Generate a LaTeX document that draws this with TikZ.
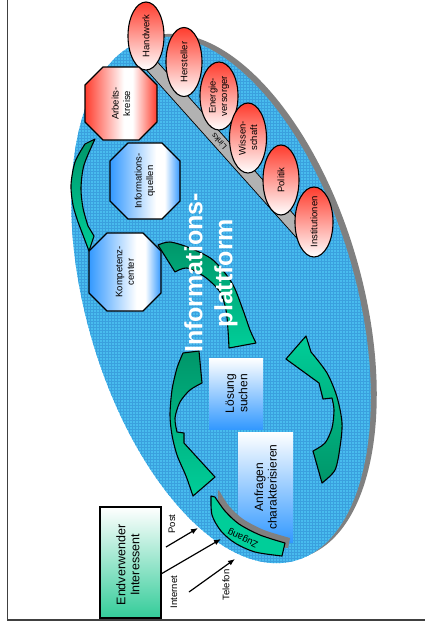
\documentclass[tikz,border=0pt]{standalone}
\usepackage{fontspec}
\setmainfont{Liberation Sans}
\usetikzlibrary{arrows.meta,shapes.geometric}
\definecolor{rd}{RGB}{255,60,45}
\definecolor{bl}{RGB}{51,153,255}
\definecolor{gd}{RGB}{0,150,105}
\definecolor{gl}{RGB}{0,206,153}
\definecolor{gbox}{RGB}{51,204,153}
\definecolor{skyfill}{RGB}{72,188,238}
\definecolor{skygrid}{RGB}{58,160,222}
\definecolor{shadowgray}{RGB}{128,128,128}
\definecolor{bargray}{RGB}{178,178,178}
\pgfdeclarehorizontalshading{octred}{100bp}{color(0bp)=(rd); color(25bp)=(rd); color(52bp)=(white); color(58bp)=(white); color(75bp)=(rd); color(100bp)=(rd)}
\pgfdeclarehorizontalshading{octblue}{100bp}{color(0bp)=(bl); color(25bp)=(bl); color(58bp)=(white); color(64bp)=(white); color(75bp)=(bl); color(100bp)=(bl)}
\tikzset{
  frameline/.style={line width=1.2pt, black!75},
  redell/.style={ellipse, draw=black, line width=1.1pt, top color=rd, bottom color=white, inner sep=0pt},
  octo/.style={draw=black, line width=1.1pt},
  garrow/.style={draw=black, line width=1.1pt, line join=round},
  lbl/.style={rotate=90, align=center, inner sep=0pt, font=\fontsize{9.5}{11.5}\selectfont},
  boxlbl/.style={rotate=90, align=center, inner sep=0pt, font=\fontsize{12}{13.5}\selectfont},
  chan/.style={-{Latex[length=7pt,width=5.5pt]}, line width=1.2pt},
  chanlbl/.style={rotate=90, inner sep=0pt, font=\fontsize{9.5}{11}\selectfont}
}
\begin{document}
\begin{tikzpicture}[x=1pt,y=-1pt]
\useasboundingbox (0,0) rectangle (424,630);
\fill[white] (0,0) rectangle (424,630);
\draw[frameline] (7.5,-5) -- (7.5,620) -- (430,620);

% platform ellipse with shadow
\fill[shadowgray, rotate around={16:(227,297)}] (227,297) ellipse [x radius=135, y radius=271];
\fill[skyfill, rotate around={16:(221,300)}] (221,300) ellipse [x radius=135, y radius=271];
\begin{scope}
\clip[rotate around={16:(221,300)}] (221,300) ellipse [x radius=135, y radius=271];
\draw[skygrid, line width=0.3pt, step=3pt] (60,20) grid (400,580);
\end{scope}

% links bar
\draw[fill=bargray, draw=black, line width=0.7pt] (143,66) -- (303,245) -- (313,236) -- (153,57) -- cycle;
\node[rotate=132, inner sep=0pt, font=\fontsize{8}{9}\selectfont] (links) at (219,141) {Links};

% partner ellipses
\node[redell, minimum width=36pt, minimum height=68pt] (hw) at (146,36) {};
\node[redell, minimum width=36pt, minimum height=69pt] (hs) at (184,62) {};
\node[redell, minimum width=38pt, minimum height=68pt] (ev) at (219,96) {};
\node[redell, minimum width=37pt, minimum height=70pt] (ws) at (248,138) {};
\node[redell, minimum width=36pt, minimum height=70pt] (po) at (281,180) {};
\node[redell, minimum width=38pt, minimum height=70pt] (in) at (314,222) {};
\node[lbl] (hwt) at (hw) {Handwerk};
\node[lbl] (hst) at (hs) {Hersteller};
\node[lbl] (evt) at (ev) {Energie-\\versorger};
\node[lbl] (wst) at (ws) {Wissen-\\schaft};
\node[lbl] (pot) at (po) {Politik};
\node[lbl] (int) at (in) {Institutionen};

% octagons
\path[octo, shading=octred] (103,67) -- (139,67) -- (157,85) -- (157,122) -- (139,140) -- (103,140) -- (85,122) -- (85,85) -- cycle;
\path[octo, shading=octblue] (128,143) -- (162,143) -- (180,161) -- (180,201) -- (162,219) -- (128,219) -- (110,201) -- (110,161) -- cycle;
\path[octo, shading=octblue] (107,233) -- (143,233) -- (161,251) -- (161,293) -- (143,311) -- (107,311) -- (89,293) -- (89,251) -- cycle;
\node[lbl] (ak) at (121,103.5) {Arbeits-\\kreise};
\node[lbl] (iq) at (145,181) {Informations-\\quellen};
\node[lbl] (kc) at (125,272) {Kompetenz-\\center};

% green cycle arrows
\path[garrow, top color=gd, bottom color=gl] (95,139) -- (85,144)
  -- plot[smooth] coordinates {(85,144) (75,162) (71,185) (73,205) (78,222)}
  -- (89,251) -- (94,236) -- (88,226)
  -- plot[smooth] coordinates {(88,226) (83,208) (81,188) (84,165) (95,139)} -- cycle;
\path[garrow, top color=gd, bottom color=gl] (175,272) -- (158,245)
  -- plot[smooth] coordinates {(158,245) (170,242) (190,248) (213,260) (232,283) (243,310) (250,330) (256,343)}
  -- (229,348)
  -- plot[smooth] coordinates {(229,348) (228,330) (226,310) (220,292) (205,277) (187,268) (175,272)} -- cycle;
\path[garrow, top color=gl, bottom color=gd] (286,359) -- (306,336) -- (311,352)
  -- plot[smooth] coordinates {(311,352) (327,373) (337,397) (342,423) (340,447) (335,470) (322,483)}
  -- (313,451)
  -- plot[smooth] coordinates {(313,451) (325,443) (332,428) (334,410) (332,398)}
  -- (323,399) -- (319,383) -- cycle;
\path[garrow, top color=gd, bottom color=gl] (199,351) -- (202,383)
  -- plot[smooth] coordinates {(202,383) (190,390) (180,402) (175,418) (177,432)}
  -- (184,433) -- (184,443) -- (215,477) -- (193,496)
  -- plot[smooth] coordinates {(193,496) (186,476) (177,455) (172,435) (170,415) (172,390) (177,368) (183,353)} -- cycle;

% process boxes
\path[top color=white, bottom color=bl] (209,358) rectangle (263,429);
\path[top color=white, bottom color=bl] (238,432) rectangle (293,542);
\node[boxlbl] (ls) at (236.5,393.5) {Lösung\\suchen};
\node[boxlbl] (ac) at (265.5,487) {Anfragen\\charakterisieren};

% platform title
\node[rotate=90, align=center, inner sep=0pt, text=white, font=\bfseries\fontsize{25}{30}\selectfont] (plat) at (211,273) {Informations-\\plattform};

% Zugang band
\fill[shadowgray] (218,490) -- plot[smooth] coordinates {(218,490) (219,508) (228,523) (241,535) (261,544) (288,548)}
  -- (290,538) -- plot[smooth] coordinates {(290,538) (264,530) (243,519) (229,506) (220,492)} -- cycle;
\path[garrow, fill=gl] (211,496) -- plot[smooth] coordinates {(211,496) (212,515) (221,531) (235,543) (255,552) (282,556)}
  -- (285,543) -- plot[smooth] coordinates {(285,543) (260,535) (239,524) (225,511) (215,497)} -- cycle;
\node[rotate=155, inner sep=0pt, font=\fontsize{9.5}{11}\selectfont] (zg) at (243,538) {Zugang};

% end user
\path[draw=black, line width=1.5pt, top color=white, bottom color=gbox] (100,507) rectangle (161,618);
\node[rotate=90, align=center, inner sep=0pt, font=\fontsize{12.5}{14}\selectfont] (eu) at (128,565) {Endverwender\\Interessent};

% channels
\coordinate (postA) at (166,547);
\coordinate (postB) at (198,528);
\coordinate (netA) at (161,574);
\coordinate (netB) at (221,539);
\coordinate (telA) at (189,592);
\coordinate (telB) at (235,559);
\draw[chan] (postA) -- (postB);
\draw[chan] (netA) -- (netB);
\draw[chan] (telA) -- (telB);
\node[chanlbl] (post) at (172,524) {Post};
\node[chanlbl] (net) at (174,592) {Internet};
\node[chanlbl] (tel) at (226,585) {Telefon};
\end{tikzpicture}
\end{document}
